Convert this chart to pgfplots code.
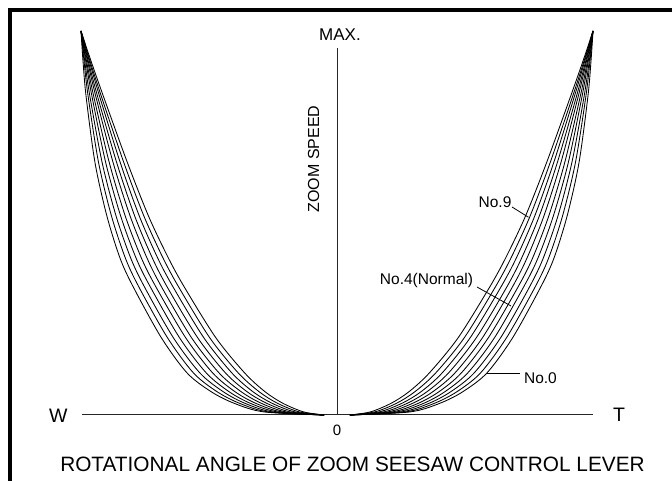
\documentclass[border=0pt]{standalone}
\usepackage{pgfplots}
\usepackage{pgfplotstable}
\pgfplotsset{compat=1.18}
\usepackage{fontspec}
\setmainfont{Liberation Sans}
\setsansfont{Liberation Sans}

% y = zoom speed (0..1), cN = lever angle at which curve No.N reaches that speed (T side)
\pgfplotstableread{
y      c9    c8    c7    c6    c5    c4    c3    c2    c1    c0
0.000  0.050 0.050 0.050 0.050 0.050 0.050 0.050 0.050 0.050 0.050
0.008  0.130 0.147 0.164 0.182 0.199 0.216 0.233 0.251 0.268 0.285
0.030  0.210 0.231 0.252 0.273 0.294 0.316 0.337 0.358 0.379 0.400
0.060  0.280 0.303 0.327 0.350 0.373 0.397 0.420 0.443 0.467 0.490
0.109  0.360 0.385 0.410 0.435 0.460 0.485 0.510 0.535 0.560 0.585
0.200  0.472 0.496 0.519 0.543 0.567 0.590 0.614 0.638 0.661 0.685
0.326  0.590 0.612 0.634 0.657 0.679 0.701 0.723 0.746 0.768 0.790
0.404  0.655 0.676 0.697 0.718 0.739 0.761 0.782 0.803 0.824 0.845
0.516  0.735 0.753 0.771 0.789 0.807 0.826 0.844 0.862 0.880 0.898
0.656  0.818 0.832 0.846 0.860 0.874 0.889 0.903 0.917 0.931 0.945
0.829  0.912 0.920 0.927 0.935 0.942 0.950 0.957 0.965 0.972 0.980
0.920  0.960 0.964 0.967 0.971 0.974 0.978 0.981 0.985 0.988 0.992
1.000  1.000 1.000 1.000 1.000 1.000 1.000 1.000 1.000 1.000 1.000
}\curves

\begin{document}
\begin{tikzpicture}
\begin{axis}[
  width=672pt, height=481pt, scale only axis,
  xmin=-1.31640625, xmax=1.30859375,
  ymin=-0.171875, ymax=1.08072917,
  hide axis, clip=false,
  cycle list={{black, solid, no marks}},
  every axis plot post/.append style={black, solid, no marks, line width=0.85pt, smooth, tension=0.5},
]
% frame
\draw[black, line width=3.2pt, line join=miter]
  (axis cs:-1.2773,-0.171875) -- (axis cs:-1.2773,1.0547) -- (axis cs:1.30859375,1.0547);
% axes
\draw[black!85, line width=1pt] (axis cs:-0.996,0) -- (axis cs:1.0,0);
\draw[black!85, line width=1pt] (axis cs:0,0) -- (axis cs:0,0.956);

% T side
\addplot table[x=c0,y=y]{\curves};
\addplot table[x=c1,y=y]{\curves};
\addplot table[x=c2,y=y]{\curves};
\addplot table[x=c3,y=y]{\curves};
\addplot table[x=c4,y=y]{\curves};
\addplot table[x=c5,y=y]{\curves};
\addplot table[x=c6,y=y]{\curves};
\addplot table[x=c7,y=y]{\curves};
\addplot table[x=c8,y=y]{\curves};
\addplot table[x=c9,y=y]{\curves};
% W side (mirror)
\addplot table[x expr=-\thisrow{c0},y=y]{\curves};
\addplot table[x expr=-\thisrow{c1},y=y]{\curves};
\addplot table[x expr=-\thisrow{c2},y=y]{\curves};
\addplot table[x expr=-\thisrow{c3},y=y]{\curves};
\addplot table[x expr=-\thisrow{c4},y=y]{\curves};
\addplot table[x expr=-\thisrow{c5},y=y]{\curves};
\addplot table[x expr=-\thisrow{c6},y=y]{\curves};
\addplot table[x expr=-\thisrow{c7},y=y]{\curves};
\addplot table[x expr=-\thisrow{c8},y=y]{\curves};
\addplot table[x expr=-\thisrow{c9},y=y]{\curves};

% leaders
\draw[black, line width=0.8pt] (axis cs:0.6836,0.5417) -- (axis cs:0.748,0.5150);
\draw[black, line width=0.8pt] (axis cs:0.5469,0.3333) -- (axis cs:0.6797,0.2839);
\draw[black, line width=0.8pt] (axis cs:0.582,0.1094) -- (axis cs:0.7148,0.1094);

% labels
\node[inner sep=0pt] at (axis cs:0.6172,0.5547) {\fontsize{15.5}{18}\selectfont No.9};
\node[inner sep=0pt] at (axis cs:0.3496,0.3503) {\fontsize{15.5}{18}\selectfont No.4(Normal)};
\node[inner sep=0pt] at (axis cs:0.7949,0.0964) {\fontsize{15.5}{18}\selectfont No.0};
\node[inner sep=0pt] at (axis cs:-1.0887,-0.0013) {\fontsize{19.5}{22}\selectfont W};
\node[inner sep=0pt] at (axis cs:1.1016,0.0013) {\fontsize{19.5}{22}\selectfont T};
\node[inner sep=0pt] at (axis cs:0,-0.0391) {\fontsize{15}{18}\selectfont 0};
\node[inner sep=0pt] at (axis cs:0.0117,0.9896) {\fontsize{17}{20}\selectfont MAX.};
\node[inner sep=0pt, rotate=90] at (axis cs:-0.0918,0.6667) {\fontsize{16}{19}\selectfont ZOOM SPEED};
\node[inner sep=0pt] at (axis cs:0.0605,-0.1276) {\fontsize{20.8}{24}\selectfont ROTATIONAL ANGLE OF ZOOM SEESAW CONTROL LEVER};
\end{axis}
\pgfresetboundingbox
\path[use as bounding box] (current axis.south west) rectangle (current axis.north east);
\end{tikzpicture}
\end{document}
